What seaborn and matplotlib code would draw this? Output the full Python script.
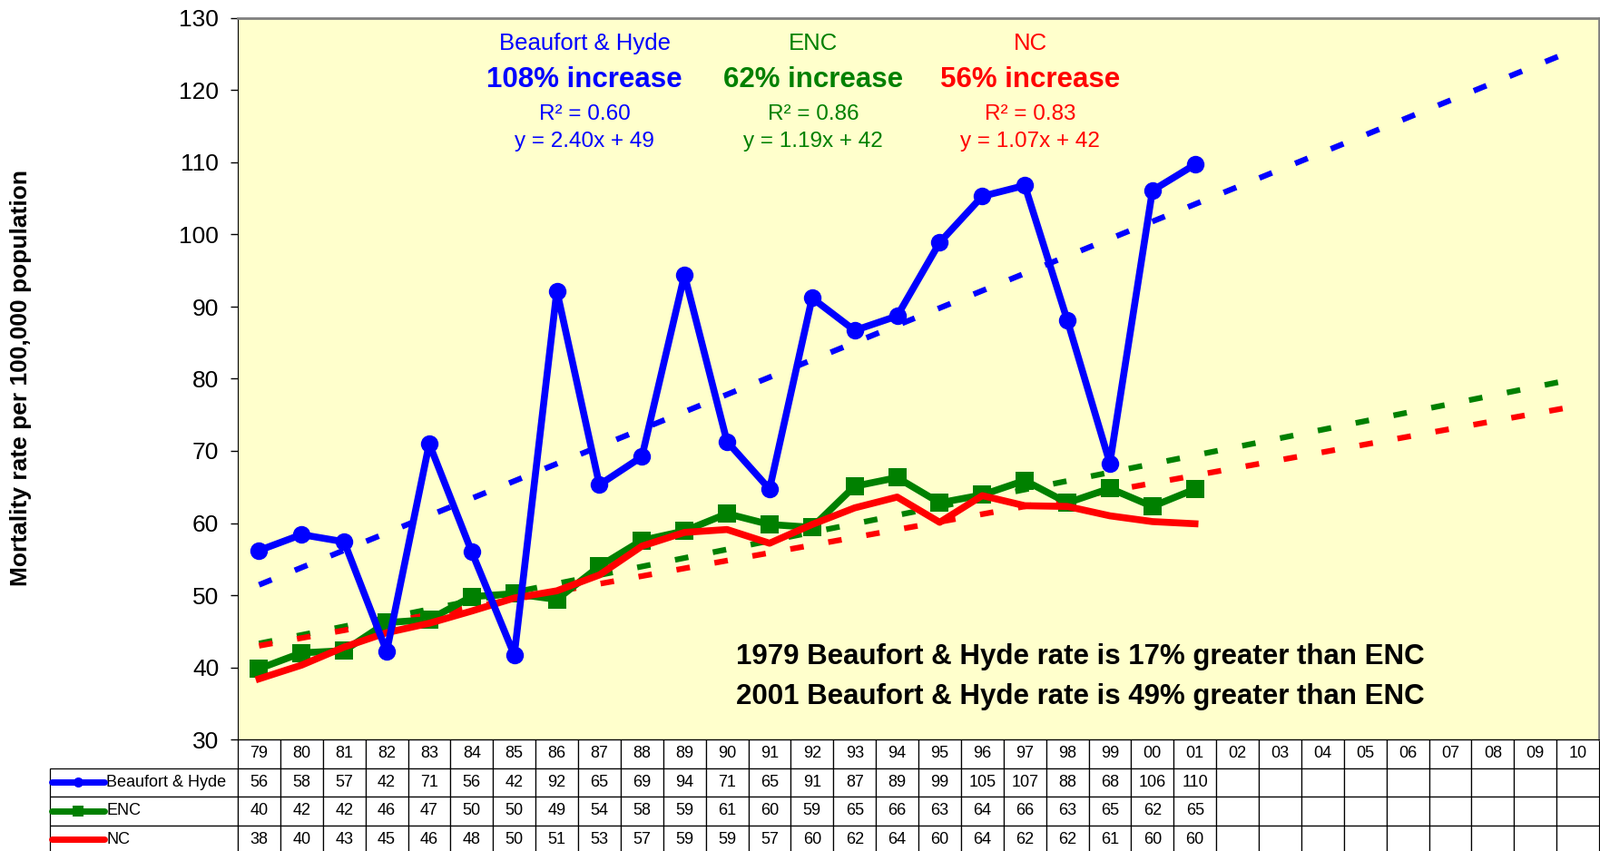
import numpy as np
import pandas as pd
import matplotlib
matplotlib.use("Agg")
import matplotlib.pyplot as plt
import seaborn as sns
from matplotlib.table import Table

plt.rcParams['font.family'] = ['Liberation Sans', 'DejaVu Sans']

# data (rates per 100,000)
years = ['79', '80', '81', '82', '83', '84', '85', '86', '87', '88', '89', '90',
         '91', '92', '93', '94', '95', '96', '97', '98', '99', '00', '01', '02',
         '03', '04', '05', '06', '07', '08', '09', '10']
beaufort_hyde = [56.2, 58.4, 57.4, 42.2, 71.0, 56.0, 41.7, 92.2, 65.3, 69.2, 94.4, 71.3,
                 64.7, 91.2, 86.7, 88.7, 98.9, 105.3, 106.8, 88.1, 68.3, 106.1, 109.7]
enc = [39.8, 42.0, 42.3, 46.2, 46.6, 49.8, 50.2, 49.4, 54.0, 57.6, 58.9, 61.3,
       59.8, 59.4, 65.1, 66.3, 62.8, 63.9, 65.9, 62.8, 64.8, 62.3, 64.7]
nc = [38.4, 40.3, 42.8, 44.8, 46.1, 47.8, 49.6, 50.6, 52.8, 56.8, 58.7, 59.1,
      57.2, 59.8, 62.1, 63.6, 60.1, 63.8, 62.4, 62.3, 61.0, 60.2, 59.9]

names = ['Beaufort & Hyde', 'ENC', 'NC']
colors = ['#0000FF', '#008000', '#FF0000']
markers = ['o', 's', None]
pct_text = ['108% increase', '62% increase', '56% increase']
r2_text = ['R\u00b2 = 0.60', 'R\u00b2 = 0.86', 'R\u00b2 = 0.83']
eq_text = ['y = 2.40x + 49', 'y = 1.19x + 42', 'y = 1.07x + 42']

df = pd.DataFrame({'idx': np.arange(len(beaufort_hyde)),
                   'Beaufort & Hyde': beaufort_hyde, 'ENC': enc, 'NC': nc})

fig = plt.figure(figsize=(17.63, 9.38), dpi=100)
ax = fig.add_axes([262 / 1763, 123 / 938, 1500 / 1763, 795 / 938])
ax.set_facecolor('#FFFFCC')

##### linear trend lines, extended to 2010 #####
xs = np.arange(len(years))
for name, c in zip(names, colors):
    coef = np.polyfit(df['idx'] + 1, df[name], 1)
    ax.plot(xs, np.polyval(coef, xs + 1), color=c, lw=4.5,
            dashes=(2.4, 4.4), dash_capstyle='butt', zorder=2)

##### data series #####
for name, c, m in zip(['ENC', 'NC', 'Beaufort & Hyde'], [colors[1], colors[2], colors[0]],
                      [markers[1], markers[2], markers[0]]):
    sns.lineplot(data=df, x='idx', y=name, color=c, lw=5.5, marker=m, markersize=14,
                 markeredgecolor=c, markeredgewidth=0, ax=ax, zorder=3)

ax.set(xlabel='', ylabel='')
ax.set_xlim(-0.5, len(years) - 0.5)
ax.set_ylim(30, 130)
ax.set_yticks(range(30, 131, 10))
ax.set_xticks([])
ax.tick_params(axis='y', labelsize=19, length=6, width=1, pad=9, direction='out')
for s in ['top', 'right']:
    ax.spines[s].set_color('#808080')
    ax.spines[s].set_linewidth(2)
ax.spines['left'].set_color('black')
ax.spines['bottom'].set_color('black')

fig.text(23 / 1763, 1 - 416 / 938, 'Mortality rate per 100,000 population',
         rotation=90, ha='center', va='center', fontsize=19, fontweight='bold')

##### annotations #####
for xpos, name, c, p, r2, eq in zip([0.2547, 0.4227, 0.582], names, colors,
                                    pct_text, r2_text, eq_text):
    ax.text(xpos, 0.965, name, color=c, fontsize=18.5, ha='center', va='center',
            transform=ax.transAxes)
    ax.text(xpos, 0.914, p, color=c, fontsize=22.5, fontweight='bold', ha='center',
            va='center', transform=ax.transAxes)
    ax.text(xpos, 0.867, r2, color=c, fontsize=17.5, ha='center', va='center',
            transform=ax.transAxes)
    ax.text(xpos, 0.829, eq, color=c, fontsize=17.5, ha='center', va='center',
            transform=ax.transAxes)

ax.text(0.6187, 0.1145, '1979 Beaufort & Hyde rate is 17% greater than ENC',
        fontsize=22.5, fontweight='bold', ha='center', va='center', transform=ax.transAxes)
ax.text(0.6187, 0.0591, '2001 Beaufort & Hyde rate is 49% greater than ENC',
        fontsize=22.5, fontweight='bold', ha='center', va='center', transform=ax.transAxes)

##### data table under the axis #####
ncol = len(years)
cw = 1 / ncol
lw_frac = 207 / 1500
rh = 31.5 / 795
# bbox covers the year/value grid only, the label column sits to its left
tab = Table(ax, bbox=[0, -4 * rh, 1, 4 * rh])
for j, yr in enumerate(years):
    tab.add_cell(0, j, width=cw, height=rh, text=yr, loc='center', facecolor='white')
for i, (name, vals) in enumerate(zip(names, [beaufort_hyde, enc, nc])):
    cell = tab.add_cell(i + 1, -1, width=lw_frac, height=rh, text=name, loc='left',
                        facecolor='white')
    cell.PAD = 0.30
    for j in range(ncol):
        txt = f'{vals[j]:.0f}' if j < len(vals) else ''
        tab.add_cell(i + 1, j, width=cw, height=rh, text=txt, loc='center',
                     facecolor='white')
for cell in tab.get_celld().values():
    cell.set_edgecolor('black')
    cell.set_linewidth(0.9)
tab.auto_set_font_size(False)
tab.set_fontsize(13)
ax.add_table(tab)

# legend keys in the row label cells
for i, (c, m) in enumerate(zip(colors, markers)):
    yc = -(i + 1.5) * rh
    ax.plot([-0.1367, -0.1172, -0.098], [yc, yc, yc], color=c, lw=5, marker=m,
            markevery=[1], markersize=8, markeredgewidth=0, solid_capstyle='round',
            transform=ax.transAxes, clip_on=False, zorder=5)

fig.savefig('out.png', dpi=100)
